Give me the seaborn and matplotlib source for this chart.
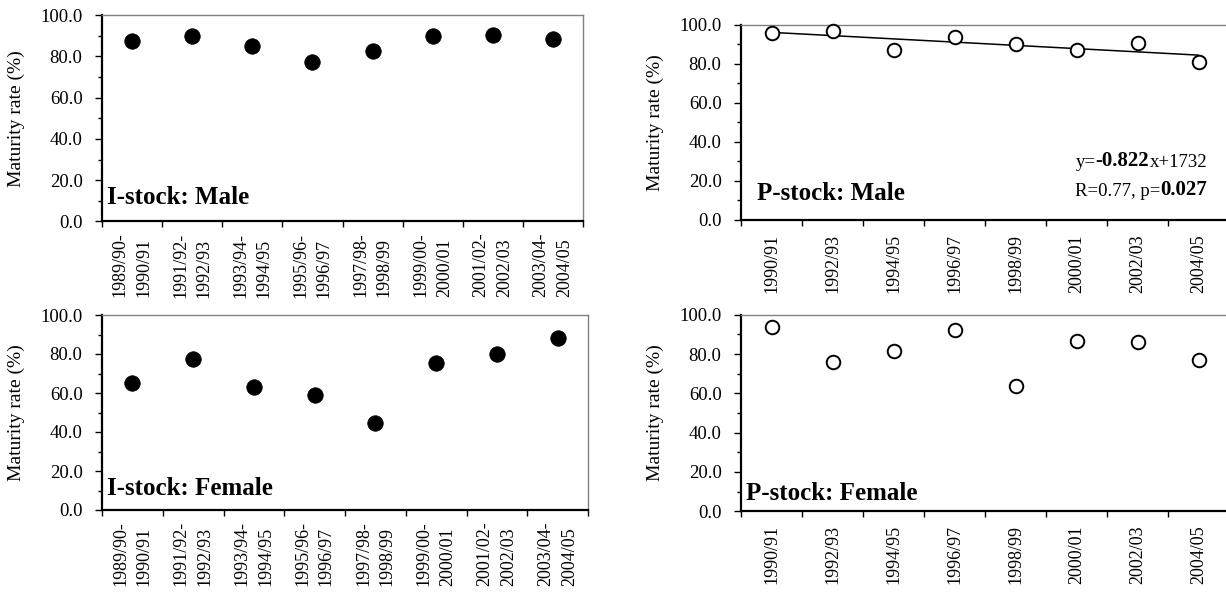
import numpy as np
import pandas as pd
import matplotlib
matplotlib.use("Agg")
import matplotlib.pyplot as plt
from matplotlib.ticker import MultipleLocator, FixedLocator, NullFormatter
import seaborn as sns

# ---------------- data ----------------
i_labels = ["1989/90-\n1990/91", "1991/92-\n1992/93", "1993/94-\n1994/95", "1995/96-\n1996/97",
            "1997/98-\n1998/99", "1999/00-\n2000/01", "2001/02-\n2002/03", "2003/04-\n2004/05"]
p_labels = ["1990/91", "1992/93", "1994/95", "1996/97", "1998/99", "2000/01", "2002/03", "2004/05"]

i_male = [87.2, 89.6, 84.8, 77.0, 82.7, 89.6, 90.4, 88.5]
i_female = [65.3, 77.6, 62.9, 58.8, 44.8, 75.2, 80.0, 88.4]
p_male = [95.5, 96.9, 87.2, 93.9, 90.3, 87.0, 90.5, 80.7]
p_female = [93.9, 75.9, 81.7, 92.2, 63.7, 86.4, 85.9, 76.8]

panel_titles = ["I-stock: Male", "P-stock: Male", "I-stock: Female", "P-stock: Female"]
ylabel = "Maturity rate (%)"

# ---------------- style ----------------
sns.set_theme(style="ticks")
plt.rcParams["font.family"] = ["Liberation Serif", "DejaVu Serif"]
plt.rcParams["text.color"] = "black"

W, H = 1226, 594
fig = plt.figure(figsize=(W / 100, H / 100), dpi=100)


def px_axes(left, right, top, bottom):
    return fig.add_axes([left / W, 1 - bottom / H, (right - left) / W, (bottom - top) / H])


def style_axes(ax, labels, title, title_xy, label_pad, right_spine=True):
    n = len(labels)
    ax.set_xlim(-0.5, n - 0.5)
    ax.set_ylim(0, 100)
    ax.set_facecolor("white")
    # y ticks
    ax.yaxis.set_major_locator(MultipleLocator(20))
    ax.yaxis.set_minor_locator(MultipleLocator(10))
    ax.set_yticks(np.arange(0, 101, 20))
    ax.set_yticklabels([f"{v:.1f}" for v in np.arange(0, 101, 20)])
    ax.tick_params(axis="y", which="major", direction="out", length=5, width=1,
                   labelsize=13.5, pad=9, colors="black")
    ax.tick_params(axis="y", which="minor", direction="out", length=3, width=1, colors="black")
    # x ticks: labels at category centres, tick marks at boundaries
    ax.xaxis.set_major_locator(FixedLocator(np.arange(n)))
    ax.set_xticklabels(labels, rotation=90, multialignment="left", linespacing=1.5)
    ax.xaxis.set_minor_locator(FixedLocator(np.arange(n + 1) - 0.5))
    ax.xaxis.set_minor_formatter(NullFormatter())
    ax.tick_params(axis="x", which="major", length=0, labelsize=13, pad=label_pad, colors="black")
    ax.tick_params(axis="x", which="minor", direction="out", length=4, width=1, colors="black")
    for s in ["left", "bottom"]:
        ax.spines[s].set_color("black")
        ax.spines[s].set_linewidth(1.6)
    ax.spines["top"].set_color("#808080")
    ax.spines["top"].set_linewidth(1.0)
    ax.spines["right"].set_color("#808080")
    ax.spines["right"].set_linewidth(1.0)
    ax.spines["right"].set_visible(right_spine)
    ax.set_xlabel("")
    ax.set_ylabel(ylabel, fontsize=14, color="black")
    width_px = ax.get_position().width * W
    ax.yaxis.set_label_coords(-77 / width_px, 0.5)
    ax.text(title_xy[0], title_xy[1], title, transform=ax.transAxes, fontsize=18,
            fontweight="bold", ha="left", va="baseline", color="black")


def draw_points(ax, values, filled):
    df = pd.DataFrame({"x": np.arange(len(values)), "y": values})
    if filled:
        sns.scatterplot(data=df, x="x", y="y", ax=ax, s=125, color="black",
                        edgecolor="black", linewidth=0.5, zorder=3, clip_on=False)
    else:
        sns.scatterplot(data=df, x="x", y="y", ax=ax, s=95, facecolor="white",
                        edgecolor="black", linewidth=1.4, zorder=3, clip_on=False)
    return df


# panel axes (pixel boxes)
ax_tl = px_axes(102, 583, 15, 221.5)
ax_tr = px_axes(741, 1229, 24.7, 220)
ax_bl = px_axes(102, 588, 315, 510)
ax_br = px_axes(741, 1229, 314.7, 511.3)

draw_points(ax_tl, i_male, True)
df_pm = draw_points(ax_tr, p_male, False)
draw_points(ax_bl, i_female, True)
draw_points(ax_br, p_female, False)

# trend line on P-stock male
sns.regplot(data=df_pm, x="x", y="y", ax=ax_tr, scatter=False, ci=None,
            line_kws={"color": "black", "lw": 1.1, "zorder": 2})

style_axes(ax_tl, i_labels, panel_titles[0], (0.01, 0.086), 8)
style_axes(ax_tr, p_labels, panel_titles[1], (0.033, 0.102), 10, right_spine=False)
style_axes(ax_bl, i_labels, panel_titles[2], (0.01, 0.077), 8)
style_axes(ax_br, p_labels, panel_titles[3], (0.01, 0.057), 10, right_spine=False)

# regression equation (mixed bold / regular), chained right-to-left
x_r = (1207 - 741) / 488
t1 = ax_tr.text(x_r, 0.271, "x+1732", transform=ax_tr.transAxes, fontsize=13.5,
                ha="right", va="baseline", color="black")
t2 = ax_tr.annotate("-0.822", xy=(0, 0), xycoords=t1, fontsize=15, fontweight="bold",
                    ha="right", va="bottom", color="black")
ax_tr.annotate("y=", xy=(0, 0), xycoords=t2, fontsize=13.5, ha="right", va="bottom", color="black")

t3 = ax_tr.text(x_r, 0.128, "0.027", transform=ax_tr.transAxes, fontsize=15,
                fontweight="bold", ha="right", va="baseline", color="black")
ax_tr.annotate("R=0.77, p=", xy=(0, 0), xycoords=t3, fontsize=13.5, ha="right",
               va="bottom", color="black")

fig.savefig("out.png", dpi=100, facecolor="white")
